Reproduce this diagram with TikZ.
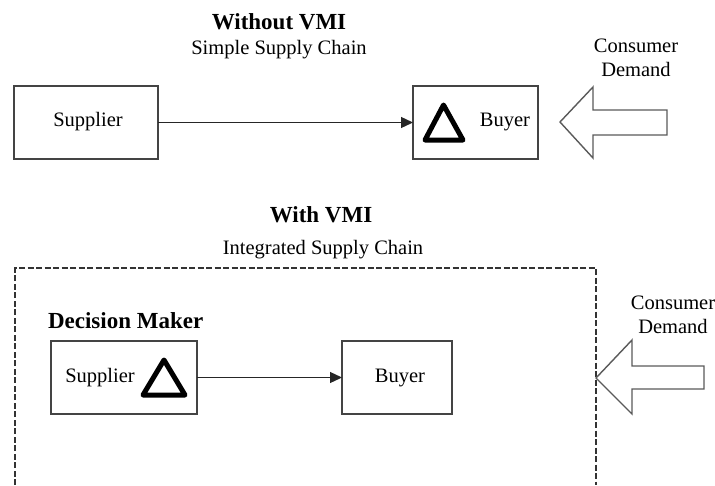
\documentclass[tikz,border=0pt]{standalone}
\usepackage{fontspec}
\setmainfont{Liberation Serif}
\usetikzlibrary{arrows.meta}
\definecolor{boxgray}{HTML}{444444}
\definecolor{arrgray}{HTML}{5A5A5A}
\begin{document}
\begin{tikzpicture}[x=1pt,y=-1pt,
  every node/.style={inner sep=0pt,outer sep=0pt,font=\fontsize{20.5}{24}\selectfont},
  boxnode/.style={draw=boxgray,line width=1.6pt,minimum height=73pt},
  headtxt/.style={font=\fontsize{23}{27}\selectfont\bfseries},
  flowarrow/.style={line width=1.3pt,draw=black!85,-{Triangle[length=12pt,width=11pt]}},
  deltatri/.style={line width=5pt,line join=round,draw=black},
  hollow/.style={draw=arrgray,line width=1.4pt,fill=white,line join=miter},
  frame/.style={draw=black!80,line width=1.3pt,dash pattern=on 6pt off 2.5pt}]
\useasboundingbox (0,0) rectangle (715,485);
% ---------- Top: Without VMI ----------
\node[headtxt] (t1) at (279,22) {Without VMI};
\node (t2) at (279,50) {Simple Supply Chain};
\node[boxnode,minimum width=144pt] (sup1) at (86,122.5) {};
\node (sup1t) at (88,122) {Supplier};
\node[boxnode,minimum width=125pt] (buy1) at (475.5,122.5) {};
\node (buy1t) at (505,122) {Buyer};
\draw[deltatri] (443.5,105) -- (425,140) -- (463,140) -- cycle;
\draw[flowarrow] (sup1.east) -- (buy1.west);
\node[align=center] (cd1) at (636,58) {Consumer\\Demand};
\coordinate (tip1) at (560,122);
\draw[hollow] (tip1) -- (593,87) -- (593,110) -- (667,110) -- (667,135) -- (593,135) -- (593,158) -- cycle;
% ---------- Bottom: With VMI ----------
\node[headtxt] (t3) at (321,215) {With VMI};
\node (t4) at (323,250) {Integrated Supply Chain};
\coordinate (fbl) at (15,485);
\coordinate (ftl) at (15,268);
\coordinate (ftr) at (596,268);
\coordinate (fbr) at (596,485);
\draw[frame] (fbl) -- (ftl) -- (ftr) -- (fbr);
\node[headtxt,anchor=base west] (dm) at (48,328) {Decision Maker};
\node[boxnode,minimum width=146pt] (sup2) at (124,377.5) {};
\node (sup2t) at (100,378) {Supplier};
\draw[deltatri] (164,360) -- (143,395) -- (185,395) -- cycle;
\node[boxnode,minimum width=110pt] (buy2) at (397,377.5) {};
\node (buy2t) at (400,378) {Buyer};
\draw[flowarrow] (sup2.east) -- (buy2.west);
\node[align=center] (cd2) at (673,315) {Consumer\\Demand};
\coordinate (tip2) at (596,378);
\draw[hollow] (tip2) -- (632,340) -- (632,366) -- (704,366) -- (704,389) -- (632,389) -- (632,414) -- cycle;
\end{tikzpicture}
\end{document}
